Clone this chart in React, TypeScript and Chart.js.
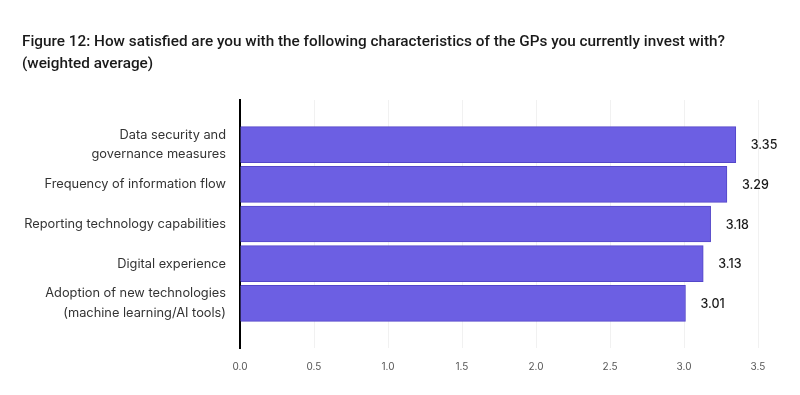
import React, { useEffect, useRef } from "react";
import { Chart, registerables } from "chart.js";

Chart.register(...registerables);

const titleLines = [
  "Figure 12: How satisfied are you with the following characteristics of the GPs you currently invest with?",
  "(weighted average)",
];
const categories: string[][] = [
  ["Data security and", "governance measures"],
  ["Frequency of information flow"],
  ["Reporting technology capabilities"],
  ["Digital experience"],
  ["Adoption of new technologies", "(machine learning/AI tools)"],
];
const values = [3.35, 3.29, 3.18, 3.13, 3.01];
const xTicks = [0, 0.5, 1, 1.5, 2, 2.5, 3, 3.5];

export default function App() {
  const ref = useRef<HTMLCanvasElement>(null);
  useEffect(() => {
    document.body.style.margin = "0";
    const titlePlugin = {
      id: "customTitle",
      afterDraw(chart: any) {
        const ctx = chart.ctx;
        ctx.save();
        ctx.fillStyle = "#1a1a1a";
        ctx.font = "500 15px Roboto, sans-serif";
        ctx.textBaseline = "alphabetic";
        ctx.textAlign = "left";
        const w = ctx.measureText(titleLines[0]).width;
        const sx = 703 / w;
        ctx.translate(22, 0);
        ctx.scale(sx, 1);
        titleLines.forEach((t, i) => ctx.fillText(t, 0, 46 + i * 22));
        ctx.restore();
      },
    };
    const valuePlugin = {
      id: "valueLabels",
      afterDatasetsDraw(chart: any) {
        const ctx = chart.ctx;
        const meta = chart.getDatasetMeta(0);
        ctx.save();
        ctx.fillStyle = "#1a1a1a";
        ctx.font = "500 12.5px Inter, sans-serif";
        ctx.textBaseline = "middle";
        ctx.textAlign = "left";
        meta.data.forEach((bar: any, i: number) => {
          ctx.fillText(values[i].toFixed(2), bar.x + 15, bar.y + 1);
        });
        ctx.restore();
      },
    };
    const chart = new Chart(ref.current!, {
      type: "bar",
      data: {
        datasets: [
          {
            data: values.map((v, i) => ({ x: v, y: i })),
            backgroundColor: "#6c5fe3",
            borderColor: "#5346c9",
            borderWidth: 1,
            barThickness: 36,
          },
        ],
      },
      options: {
        indexAxis: "y",
        animation: false,
        responsive: false,
        layout: { padding: { top: 100, right: 42, left: 0, bottom: 0 } },
        plugins: { legend: { display: false }, tooltip: { enabled: false } },
        scales: {
          x: {
            type: "linear",
            min: 0,
            max: 3.5,
            afterBuildTicks(scale: any) {
              scale.ticks = xTicks.map((v) => ({ value: v }));
            },
            afterFit(scale: any) {
              scale.height = 47;
            },
            grid: { color: "#f1f1f1", drawTicks: false },
            border: { display: false },
            ticks: {
              padding: 13,
              color: "#555",
              font: { family: "Inter, sans-serif", size: 10 },
              callback: (v: any) => Number(v).toFixed(1),
            },
          },
          y: {
            type: "linear",
            min: -1.125,
            max: 5.125,
            offset: false,
            reverse: true,
            afterBuildTicks(scale: any) {
              scale.ticks = categories.map((_, i) => ({ value: i }));
              scale.min = -1.125;
              scale.max = 5.125;
            },
            afterFit(scale: any) {
              scale.width = 240;
            },
            grid: { display: false, drawTicks: false },
            border: { display: true, color: "#000", width: 2 },
            ticks: {
              padding: 14,
              color: "#333",
              font: { family: "Inter, sans-serif", size: 12.8, lineHeight: 1.55 },
              callback: (v: any) => categories[Number(v)] ?? "",
            },
          },
        },
      },
      plugins: [titlePlugin, valuePlugin],
    } as any);
    return () => chart.destroy();
  }, []);
  return <canvas ref={ref} width={800} height={395} style={{ display: "block" }} />;
}
